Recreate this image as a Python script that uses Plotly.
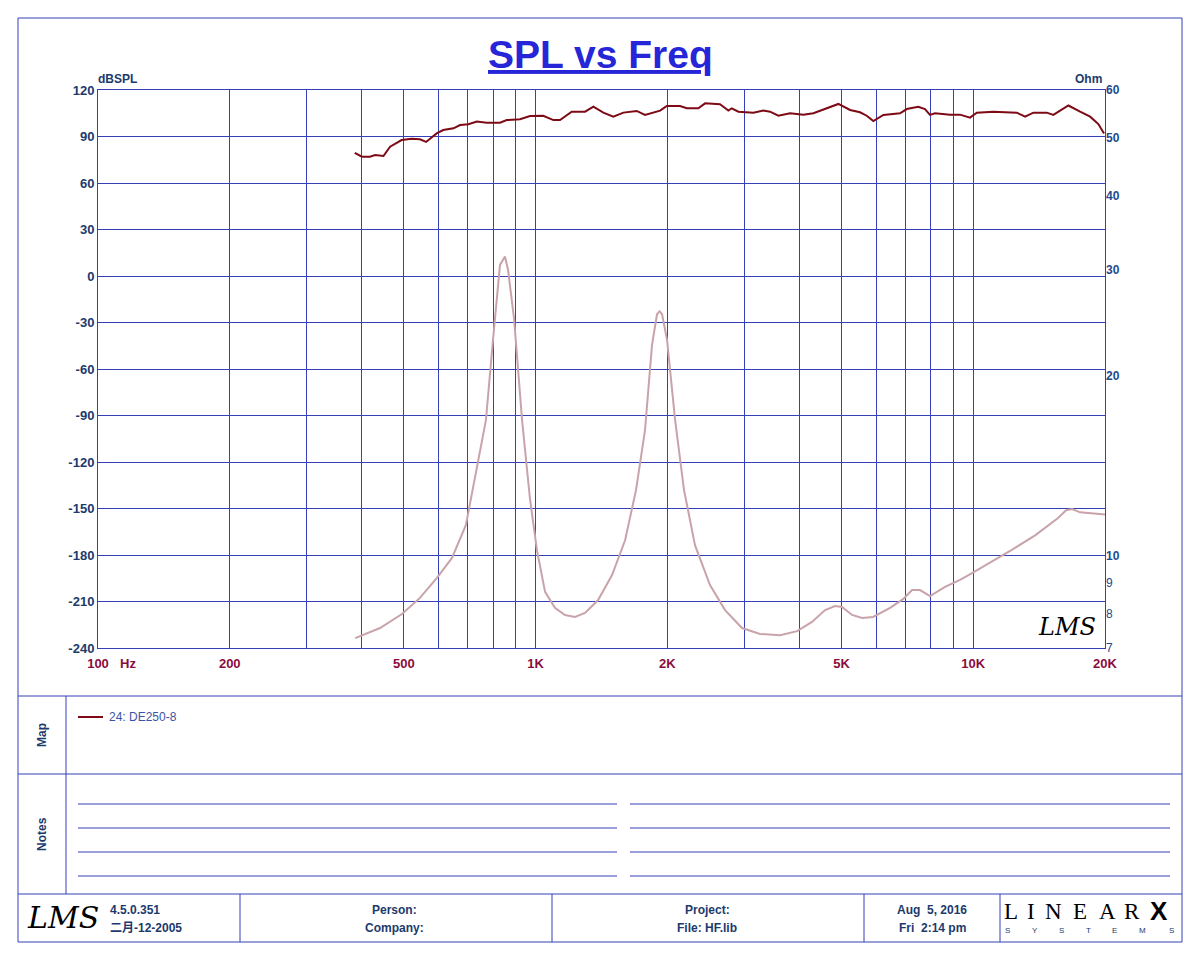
import plotly.graph_objects as go

# ---------------- data ----------------
spl_freq = [386, 401, 418, 430, 449, 465, 494, 521, 544, 562, 594, 615, 649, 672, 702, 734, 773, 829,
            859, 921, 971, 1041, 1098, 1137, 1209, 1297, 1355, 1428, 1505, 1587, 1702, 1778, 1925,
            1994, 2138, 2215, 2354, 2439, 2638, 2757, 2806, 2906, 3145, 3314, 3433, 3586, 3814, 4090,
            4312, 4708, 4918, 5230, 5512, 5709, 5911, 6232, 6804, 7047, 7488, 7756, 7964, 8176, 8851,
            9327, 9833, 10186, 11114, 12573, 13135, 13722, 14723, 15241, 16497, 17542, 18496, 19313, 19900]
spl_db = [79.5, 77.0, 77.0, 78.0, 77.4, 83.4, 87.7, 88.6, 88.2, 86.5, 92.0, 94.2, 95.3, 97.4, 97.9, 99.6,
          98.9, 98.9, 100.6, 101.1, 103.2, 103.4, 100.6, 100.6, 106.0, 106.0, 109.2, 105.4, 102.8, 105.4,
          106.5, 103.9, 106.7, 109.7, 109.7, 108.2, 108.2, 111.4, 110.8, 106.7, 108.2, 106.0, 105.4,
          106.7, 106.0, 103.4, 105.0, 104.1, 105.0, 108.8, 111.0, 107.1, 105.6, 103.4, 100.0, 103.9,
          105.0, 107.7, 109.2, 107.7, 103.9, 105.0, 104.1, 104.1, 102.2, 105.4, 106.0, 105.4, 102.8,
          105.4, 105.4, 103.9, 110.0, 106.0, 102.8, 98.0, 92.0]

imp_freq = [387, 441, 495, 544, 595, 644, 693, 739, 770, 799, 829, 851, 865, 893, 931, 971, 1007, 1051,
            1107, 1167, 1230, 1297, 1389, 1495, 1601, 1696, 1778, 1845, 1894, 1920, 1945, 1997, 2083, 2183,
            2313, 2503, 2709, 2963, 3257, 3619, 3958, 4281, 4585, 4833, 5015, 5285, 5571, 5902, 6455,
            6911, 7248, 7558, 7964, 8620, 9327, 9937, 10925, 12135, 13846, 14826, 15626, 16300, 16822,
            17542, 18783, 20000]
imp_ohm = [7.27, 7.56, 7.98, 8.49, 9.17, 9.90, 11.24, 14.3, 16.85, 22.9, 30.6, 31.6, 30.0, 24.8, 16.85,
           12.4, 10.2, 8.69, 8.17, 7.95, 7.89, 8.01, 8.42, 9.27, 10.6, 12.86, 16.2, 22.5, 25.3, 25.6, 25.3,
           22.9, 16.85, 12.86, 10.4, 8.92, 8.1, 7.56, 7.39, 7.35, 7.47, 7.74, 8.1, 8.23, 8.2, 7.95,
           7.86, 7.89, 8.17, 8.45, 8.75, 8.75, 8.55, 8.86, 9.1, 9.34, 9.71, 10.17, 10.8, 11.24, 11.55,
           11.9, 11.95, 11.8, 11.73, 11.7]

x_grid = [100, 200, 300, 400, 500, 600, 700, 800, 900, 1000, 2000, 3000, 4000, 5000, 6000, 7000,
          8000, 9000, 10000, 20000]
x_label_map = {100: "100", 200: "200", 500: "500", 1000: "1K", 2000: "2K", 5000: "5K",
               10000: "10K", 20000: "20K"}
y_left_ticks = [-240, -210, -180, -150, -120, -90, -60, -30, 0, 30, 60, 90, 120]
y_right_ticks = [7, 8, 9, 10, 20, 30, 40, 50, 60]
y_right_bold = [10, 20, 30, 40, 50, 60]

# ---------------- styling ----------------
W, H = 1200, 960
L, R, T, B = 98, 1105, 90, 648
GRID = "#3440b8"
NAVY = "#1c3a6c"
MAROON = "#8a0c3e"
FONT = "Liberation Sans, Arial, Noto Sans CJK SC, sans-serif"


def px(x):
    return (x - L) / (R - L)


def py(y):
    return (B - y) / (B - T)


fig = go.Figure()
fig.add_trace(go.Scatter(x=imp_freq, y=imp_ohm, yaxis="y2", mode="lines",
                         line=dict(color="#c9a3aa", width=2), hoverinfo="skip"))
fig.add_trace(go.Scatter(x=spl_freq, y=spl_db, yaxis="y", mode="lines",
                         line=dict(color="#7d0a14", width=2), hoverinfo="skip"))

fig.update_layout(
    width=W, height=H,
    margin=dict(l=L, r=W - R, t=T, b=H - B, pad=0),
    paper_bgcolor="white", plot_bgcolor="white",
    showlegend=False,
    font=dict(family=FONT),
    xaxis=dict(type="log", range=[2, 4.30103], tickvals=x_grid,
               ticktext=[x_label_map.get(v, "") for v in x_grid],
               showgrid=True, gridcolor=GRID, gridwidth=1,
               showline=True, linecolor=GRID, linewidth=1, mirror=True,
               ticks="", zeroline=False, ticklabelstandoff=3,
               tickfont=dict(family=FONT, size=13, color=MAROON, weight="bold")),
    yaxis=dict(range=[-240, 120], tickvals=y_left_ticks,
               ticktext=[str(v) for v in y_left_ticks],
               showgrid=True, gridcolor=GRID, gridwidth=1,
               showline=True, linecolor=GRID, linewidth=1, mirror=True,
               ticks="", zeroline=False,
               tickfont=dict(family=FONT, size=13, color=NAVY, weight="bold")),
    yaxis2=dict(type="log", overlaying="y", side="right",
                range=[0.845098, 1.778151], tickvals=y_right_ticks,
                ticktext=[("<b>%d</b>" % v) if v in y_right_bold else str(v) for v in y_right_ticks],
                showgrid=False, showline=False, ticks="", zeroline=False,
                tickfont=dict(family=FONT, size=12, color="#1f4a8c")),
)

shapes = []


def hline(x0, x1, y, color=GRID, width=1):
    shapes.append(dict(type="line", xref="paper", yref="paper", x0=px(x0), x1=px(x1),
                       y0=py(y), y1=py(y), line=dict(color=color, width=width), layer="above"))


def vline(x, y0, y1, color=GRID, width=1):
    shapes.append(dict(type="line", xref="paper", yref="paper", x0=px(x), x1=px(x),
                       y0=py(y0), y1=py(y1), line=dict(color=color, width=width), layer="above"))


# outer frame
hline(18, 1182, 18)
hline(18, 1182, 942)
vline(18, 18, 942)
vline(1182, 18, 942)
# section separators
hline(18, 1182, 696)
hline(18, 1182, 774)
hline(18, 1182, 894)
vline(66, 696, 894)
# footer dividers
for xv in [240, 552, 864, 1000]:
    vline(xv, 894, 942)
# notes lines
for yv in [804, 828, 852, 876]:
    hline(78, 617, yv)
    hline(630, 1170, yv)
# legend swatch
hline(78, 103, 717, color="#7d0a14", width=2)

annotations = []


def text(x, y, s, size=12, color=NAVY, xanchor="center", bold=True, family=FONT, angle=0,
         italic=False):
    f = dict(family=family, size=size, color=color)
    if bold:
        f["weight"] = "bold"
    if italic:
        f["style"] = "italic"
    annotations.append(dict(xref="paper", yref="paper", x=px(x), y=py(y), text=s,
                            showarrow=False, xanchor=xanchor, yanchor="middle", font=f,
                            textangle=angle))


# title
text(600, 55, '<span style="text-decoration:underline">SPL vs Freq</span>', size=39,
     color="#2626d8")
text(96, 79, "dBSPL", size=12, xanchor="left")
text(1104, 79, "Ohm", size=12, xanchor="right")
text(118, 663, "Hz", size=13, color=MAROON, xanchor="left")
# LMS mark inside plot
text(1067, 627, "LMS", size=24, color="black", bold=False, italic=True,
     family="DejaVu Serif, serif")

# map / notes
text(42, 735, "Map", size=12, angle=-90)
text(42, 834, "Notes", size=12, angle=-90)
text(107, 717, "24: DE250-8", size=12, color="#3a55a5", xanchor="left", bold=False)

# footer
text(63, 917, "LMS", size=30, color="black", bold=False, italic=True,
     family="DejaVu Serif, serif")
text(108, 910, "4.5.0.351", size=12, xanchor="left")
text(108, 928, "二月-12-2005", size=12, xanchor="left")
text(394, 910, "Person:", size=12)
text(394, 928, "Company:", size=12)
text(707, 910, "Project:", size=12)
text(707, 928, "File: HF.lib", size=12)
text(932, 910, "Aug  5, 2016", size=12)
text(932, 928, "Fri  2:14 pm", size=12)

for ch, xv in zip("LINEAR", [1011, 1031, 1053, 1080, 1107, 1132]):
    text(xv, 911, ch, size=23, color="black", bold=False, family="Liberation Serif, serif")
text(1159, 911, "X", size=26, color="black", bold=True, family="Liberation Sans, sans-serif")
for ch, xv in zip("SYSTEMS", [1007, 1035, 1061, 1088, 1114, 1142, 1171]):
    text(xv, 931, ch, size=8, color="#1c3a6c", bold=False)

fig.update_layout(shapes=shapes, annotations=annotations)
fig.write_html("out.html")
